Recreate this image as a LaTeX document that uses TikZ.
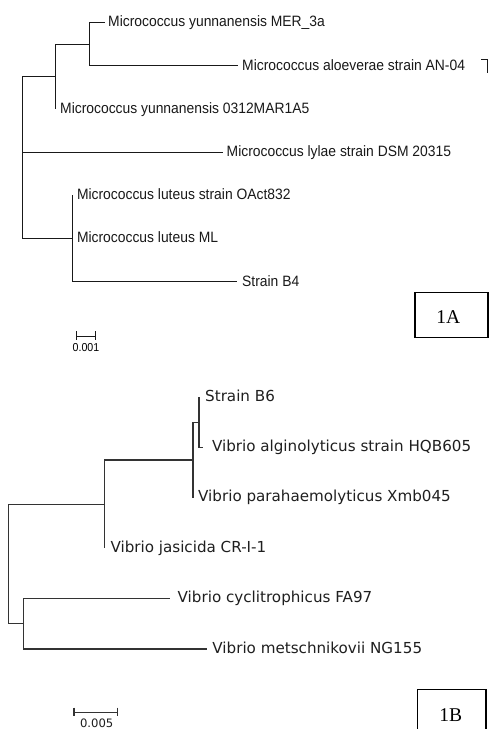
\documentclass[tikz,border=0pt]{standalone}
\usepackage{fontspec}
\setmainfont{Liberation Serif}
\newfontfamily\topfont[FakeStretch=0.925]{Liberation Sans}
\newfontfamily\botfont{DejaVu Sans}
\begin{document}
\begin{tikzpicture}[x=1pt,y=-1pt,
  branchA/.style={draw=black!90, line width=0.9pt},
  branchB/.style={draw=black!80, line width=1.1pt},
  labA/.style={anchor=base west, inner sep=0pt, yshift=-4.4pt, text=black!90, font=\topfont\fontsize{15}{15}\selectfont},
  labB/.style={anchor=base west, inner sep=0pt, yshift=-4pt, text=black!88, font=\botfont\fontsize{15.15}{15}\selectfont},
  panelbox/.style={draw=black, line width=1.4pt},
  paneltext/.style={inner sep=0pt, font=\fontsize{19.5}{19.5}\selectfont}]
\clip (0,0) rectangle (489,729);
\fill[white] (0,0) rectangle (489,729);

% ---------- Tree 1A ----------
\coordinate (tMER)  at (105,22.5);
\coordinate (tAloe) at (238,65.7);
\coordinate (t0312) at (55,108.9);
\coordinate (tLyl)  at (223,152.1);
\coordinate (tOAct) at (72.3,195.3);
\coordinate (tML)   at (72.3,238.5);
\coordinate (tB4)   at (237,281.7);
\coordinate (bA) at (89,44.1);
\coordinate (aA) at (55,76.5);
\coordinate (cA) at (72.3,238.5);
\coordinate (rA) at (22.7,157.5);

\draw[branchA] (rA) |- (aA);
\draw[branchA] (rA) |- (tLyl);
\draw[branchA] (rA) |- (cA);
\draw[branchA] (aA) |- (bA);
\draw[branchA] (aA) |- (t0312);
\draw[branchA] (bA) |- (tMER);
\draw[branchA] (bA) |- (tAloe);
\draw[branchA] (cA) |- (tOAct);
\draw[branchA] (cA) |- (tML);
\draw[branchA] (cA) |- (tB4);

\node[labA, xshift=3pt] (lMER)  at (tMER)  {Micrococcus yunnanensis MER\_3a};
\node[labA, xshift=4pt] (lAloe) at (tAloe) {Micrococcus aloeverae strain AN-04};
\node[labA, xshift=5pt] (l0312) at (t0312) {Micrococcus yunnanensis 0312MAR1A5};
\node[labA, xshift=3.5pt] (lLyl) at (tLyl) {Micrococcus lylae strain DSM 20315};
\node[labA, xshift=4.5pt] (lOAct) at (tOAct) {Micrococcus luteus strain OAct832};
\node[labA, xshift=4.5pt] (lML)  at (tML)   {Micrococcus luteus ML};
\node[labA, xshift=5pt] (lB4)   at (tB4)   {Strain B4};

% small bracket
\coordinate (brA) at (481,59);
\coordinate (brB) at (487.3,72.7);
\draw[branchA] (brA) -| (brB);

% scale bar 1A
\coordinate (sA1) at (76.7,336.7);
\coordinate (sA2) at (95,336.7);
\draw[branchA] (sA1) -- (sA2);
\draw[branchA] ([yshift=5.5pt]sA1) -- ([yshift=-3pt]sA1);
\draw[branchA] ([yshift=5.5pt]sA2) -- ([yshift=-3pt]sA2);
\node[inner sep=0pt, font=\topfont\fontsize{11.5}{11.5}\selectfont] (scA) at (86,347.5) {0.001};

% panel 1A
\draw[panelbox] (415,292.7) rectangle (488,337.7);
\node[paneltext] (pA) at (448.3,316.7) {1A};

% ---------- Tree 1B ----------
\coordinate (tB6)   at (199,397);
\coordinate (tHQB)  at (203.3,447.4);
\coordinate (tPara) at (193,497.8);
\coordinate (tJas)  at (104.3,548.2);
\coordinate (tCyc)  at (170,598.6);
\coordinate (tMet)  at (206.7,649);
\coordinate (fB) at (199,422.2);
\coordinate (eB) at (193,460);
\coordinate (dB) at (104.3,504.1);
\coordinate (gB) at (23.3,623.8);
\coordinate (rB) at (8.3,564);

\draw[branchB] (rB) |- (dB);
\draw[branchB] (rB) |- (gB);
\draw[branchB] (dB) |- (eB);
\draw[branchB] (dB) |- (tJas);
\draw[branchB] (eB) |- (fB);
\draw[branchB] (eB) |- (tPara);
\draw[branchB] (fB) |- (tB6);
\draw[branchB] (fB) |- (tHQB);
\draw[branchB] (gB) |- (tCyc);
\draw[branchB] (gB) |- (tMet);

\node[labB, xshift=6pt]   (lB6)   at (tB6)   {Strain B6};
\node[labB, xshift=8.5pt] (lHQB)  at (tHQB)  {Vibrio alginolyticus strain HQB605};
\node[labB, xshift=5pt]   (lPara) at (tPara) {Vibrio parahaemolyticus Xmb045};
\node[labB, xshift=6pt]   (lJas)  at (tJas)  {Vibrio jasicida CR-I-1};
\node[labB, xshift=7.5pt] (lCyc)  at (tCyc)  {Vibrio cyclitrophicus FA97};
\node[labB, xshift=5.5pt] (lMet)  at (tMet)  {Vibrio metschnikovii NG155};

% scale bar 1B
\coordinate (sB1) at (74,712.7);
\coordinate (sB2) at (117.7,712.7);
\draw[branchB] (sB1) -- (sB2);
\draw[branchB] ([yshift=5pt]sB1) -- ([yshift=-3.5pt]sB1);
\draw[branchB] ([yshift=5pt]sB2) -- ([yshift=-3.5pt]sB2);
\node[inner sep=0pt, text=black!88, font=\botfont\fontsize{11.6}{11.6}\selectfont] (scB) at (96.7,723.3) {0.005};

% panel 1B
\draw[panelbox] (417.3,689.3) rectangle (486,740);
\node[paneltext] (pB) at (450.7,715) {1B};
\end{tikzpicture}
\end{document}
